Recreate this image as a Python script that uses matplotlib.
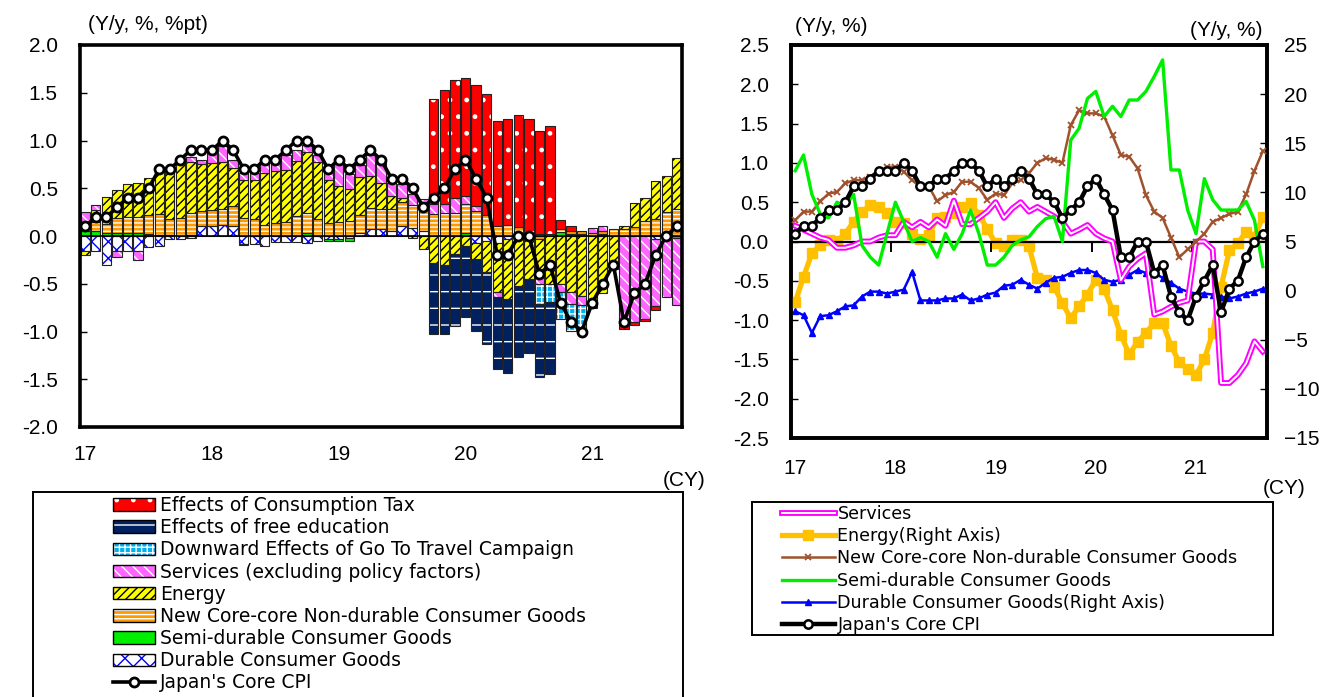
import matplotlib
matplotlib.use("Agg")
import matplotlib.pyplot as plt
import numpy as np
from matplotlib.patches import Patch, Rectangle
from matplotlib.lines import Line2D

plt.rcParams['font.family'] = ['DejaVu Sans']
plt.rcParams['hatch.linewidth'] = 1.0

# monthly, Jan 2017 .. Sep 2021
year_pos = [0, 12, 24, 36, 48]
year_labels = ['17', '18', '19', '20', '21']

core_cpi = [0.1, 0.2, 0.2, 0.3, 0.4, 0.4, 0.5, 0.7, 0.7, 0.8, 0.9, 0.9,
            0.9, 1.0, 0.9, 0.7, 0.7, 0.8, 0.8, 0.9, 1.0, 1.0, 0.9, 0.7,
            0.8, 0.7, 0.8, 0.9, 0.8, 0.6, 0.6, 0.5, 0.3, 0.4, 0.5, 0.7,
            0.8, 0.6, 0.4, -0.2, -0.2, 0.0, 0.0, -0.4, -0.3, -0.7, -0.9, -1.0,
            -0.7, -0.5, -0.3, -0.9, -0.6, -0.5, -0.2, 0.0, 0.1]

# contributions (left panel), %pt
c_durable = [-0.16, -0.16, -0.30, -0.16, -0.16, -0.16, -0.12, -0.10, -0.03, -0.03, -0.02, 0.10,
             0.10, 0.11, 0.10, -0.08, -0.08, -0.10, -0.06, -0.06, -0.06, -0.07, -0.05, -0.03,
             -0.03, -0.02, 0.03, 0.07, 0.07, 0.05, 0.10, 0.08, 0.05, 0.0, 0.0, 0.0,
             0.0, -0.07, -0.05, -0.07, -0.03, 0.0, 0.0, 0.02, 0.0, 0.0, 0.0, 0.0,
             0.0, 0.0, 0.0, 0.0, 0.0, 0.0, -0.03, 0.0, 0.0]
c_semi = [0.05, 0.05, 0.03, 0.03, 0.03, 0.03, 0.02, 0.01, 0.01, 0.0, 0.01, 0.0,
          0.0, 0.0, 0.0, -0.01, 0.0, 0.0, 0.0, 0.0, 0.0, 0.03, 0.0, -0.02,
          -0.02, -0.03, 0.0, 0.0, 0.0, 0.0, 0.0, 0.0, 0.0, 0.0, 0.0, 0.0,
          0.03, 0.0, 0.0, 0.0, 0.0, 0.0, 0.0, 0.0, 0.0, 0.04, 0.02, 0.02,
          0.0, 0.02, 0.0, 0.0, 0.0, 0.0, 0.01, 0.01, -0.02]
c_corecore = [0.10, 0.10, 0.10, 0.16, 0.17, 0.17, 0.20, 0.22, 0.17, 0.19, 0.23, 0.16,
              0.17, 0.17, 0.21, 0.19, 0.18, 0.12, 0.14, 0.15, 0.21, 0.21, 0.18, 0.14,
              0.15, 0.16, 0.19, 0.22, 0.21, 0.23, 0.26, 0.24, 0.22, 0.23, 0.24, 0.24,
              0.30, 0.26, 0.22, 0.10, 0.12, 0.09, 0.03, -0.03, 0.02, 0.03, 0.03, 0.03,
              0.03, 0.03, 0.07, 0.07, 0.09, 0.16, 0.17, 0.24, 0.28]
c_energy = [-0.04, 0.12, 0.28, 0.29, 0.34, 0.36, 0.39, 0.44, 0.54, 0.59, 0.53, 0.49,
            0.49, 0.49, 0.40, 0.40, 0.41, 0.54, 0.54, 0.54, 0.58, 0.64, 0.60, 0.45,
            0.37, 0.33, 0.40, 0.34, 0.28, 0.14, 0.04, -0.02, -0.14, -0.28, -0.30, -0.19,
            -0.10, -0.17, -0.33, -0.52, -0.63, -0.52, -0.45, -0.40, -0.50, -0.50, -0.59, -0.63,
            -0.68, -0.60, -0.35, 0.03, 0.26, 0.24, 0.40, 0.38, 0.54]
c_services = [0.10, 0.05, 0.0, -0.06, 0.0, -0.09, 0.0, 0.0, 0.0, 0.03, 0.06, 0.05,
              0.16, 0.17, 0.09, 0.07, 0.07, 0.10, 0.09, 0.16, 0.11, 0.07, 0.07, 0.08,
              0.24, 0.16, 0.12, 0.22, 0.21, 0.14, 0.14, 0.12, 0.12, 0.10, 0.10, 0.16,
              0.09, 0.05, 0.0, -0.05, 0.0, 0.0, 0.0, -0.07, 0.0, -0.09, -0.12, -0.09,
              0.05, 0.05, 0.0, -0.90, -0.90, -0.87, -0.70, -0.64, -0.70]
c_goto = [0.0, 0.0, 0.0, 0.0, 0.0, 0.0, 0.0, 0.0, 0.0, 0.0, 0.0, 0.0,
          0.0, 0.0, 0.0, 0.0, 0.0, 0.0, 0.0, 0.0, 0.0, 0.0, 0.0, 0.0,
          0.0, 0.0, 0.0, 0.0, 0.0, 0.0, 0.0, 0.0, 0.0, 0.0, 0.0, 0.0,
          0.0, 0.0, 0.0, 0.0, 0.0, 0.0, 0.0, -0.21, -0.19, -0.28, -0.28, -0.30,
          0.0, 0.0, 0.0, 0.0, 0.0, 0.0, 0.0, 0.0, 0.0]
c_education = [0.0, 0.0, 0.0, 0.0, 0.0, 0.0, 0.0, 0.0, 0.0, 0.0, 0.0, 0.0,
               0.0, 0.0, 0.0, 0.0, 0.0, 0.0, 0.0, 0.0, 0.0, 0.0, 0.0, 0.0,
               0.0, 0.0, 0.0, 0.0, 0.0, 0.0, 0.0, 0.0, 0.0, -0.75, -0.73, -0.75,
               -0.75, -0.75, -0.75, -0.75, -0.77, -0.75, -0.78, -0.77, -0.75, 0.0, 0.0, 0.0,
               0.0, 0.0, 0.0, 0.0, 0.0, 0.0, 0.0, 0.0, 0.0]
c_tax = [0.0, 0.0, 0.0, 0.0, 0.0, 0.0, 0.0, 0.0, 0.0, 0.0, 0.0, 0.0,
         0.0, 0.0, 0.0, 0.0, 0.0, 0.0, 0.0, 0.0, 0.0, 0.0, 0.0, 0.0,
         0.0, 0.0, 0.0, 0.0, 0.0, 0.0, 0.0, 0.0, 0.0, 1.10, 1.19, 1.23,
         1.23, 1.27, 1.27, 1.10, 1.10, 1.18, 1.20, 1.08, 1.13, 0.10, 0.05, 0.0,
         -0.07, 0.0, 0.0, -0.07, -0.03, -0.02, -0.05, 0.0, 0.0]

# right panel, y/y %
services = [0.20, 0.15, 0.10, 0.05, 0.02, -0.08, -0.08, -0.05, 0.0, 0.0, 0.05, 0.08,
            0.08, 0.25, 0.18, 0.25, 0.18, 0.28, 0.20, 0.52, 0.22, 0.22, 0.30, 0.38,
            0.50, 0.30, 0.42, 0.50, 0.38, 0.44, 0.38, 0.32, 0.25, 0.10, 0.15, 0.21,
            0.10, 0.04, 0.0, -0.49, -0.32, -0.22, -0.15, -0.93, -0.89, -0.83, -0.78, -0.75,
            0.0, 0.0, -0.10, -1.80, -1.80, -1.70, -1.55, -1.27, -1.40]
energy = [-1.2, 1.4, 3.8, 4.6, 5.2, 5.0, 5.8, 7.0, 8.0, 8.7, 8.5, 7.9,
          7.0, 6.9, 5.8, 5.3, 5.7, 7.4, 7.5, 7.9, 8.5, 8.9, 7.7, 6.3,
          4.8, 4.5, 5.2, 5.2, 4.5, 1.3, 1.1, 0.4, -1.3, -2.8, -1.6, -0.4,
          1.1, 0.2, -2.0, -4.5, -6.5, -5.2, -4.3, -3.3, -3.3, -5.6, -7.3, -8.0,
          -8.6, -7.0, -4.3, 0.4, 4.1, 4.8, 6.0, 5.5, 7.5]
corecore = [0.27, 0.38, 0.38, 0.51, 0.61, 0.63, 0.74, 0.78, 0.78, 0.82, 0.89, 0.95,
            0.95, 0.89, 0.78, 0.70, 0.70, 0.51, 0.59, 0.63, 0.76, 0.76, 0.68, 0.53,
            0.61, 0.59, 0.74, 0.78, 0.87, 1.00, 1.06, 1.04, 1.00, 1.48, 1.67, 1.63,
            1.63, 1.59, 1.35, 1.10, 1.08, 0.93, 0.59, 0.38, 0.30, 0.05, -0.20, -0.10,
            0.0, 0.10, 0.25, 0.30, 0.35, 0.38, 0.60, 0.90, 1.15]
semidurable = [0.90, 1.10, 0.60, 0.35, 0.30, 0.50, 0.45, 0.60, -0.05, -0.20, -0.30, 0.10,
               0.50, 0.25, 0.0, 0.05, 0.0, -0.20, 0.10, -0.10, 0.10, 0.40, 0.10, -0.30,
               -0.30, -0.20, -0.05, 0.02, 0.06, 0.19, 0.29, 0.32, 0.0, 1.29, 1.44, 1.82,
               1.91, 1.59, 1.72, 1.59, 1.80, 1.80, 1.91, 2.10, 2.31, 0.91, 0.91, 0.40,
               0.10, 0.80, 0.53, 0.40, 0.40, 0.40, 0.51, 0.27, -0.32]
durable = [-2.1, -2.5, -4.3, -2.6, -2.5, -2.1, -1.6, -1.5, -0.6, -0.1, -0.1, -0.3,
           -0.1, 0.1, 1.9, -1.0, -1.0, -1.0, -0.8, -0.8, -0.4, -1.0, -0.8, -0.4,
           -0.2, 0.5, 0.6, 1.1, 0.6, 0.2, 0.8, 1.3, 1.4, 1.8, 2.1, 2.1,
           1.8, 1.1, 0.9, 1.1, 1.6, 2.1, 1.8, 1.8, 1.3, 0.8, 0.2, -0.1,
           -0.3, -0.3, -0.4, -0.6, -0.8, -0.6, -0.3, -0.1, 0.2]

W, H = 1324, 697
fig = plt.figure(figsize=(W / 100, H / 100), dpi=100)

def fx(px):
    return px / W

def fy(py):
    return 1 - py / H

AX_FONT = 'Liberation Sans'
TXT = 15

def style_ticks(a):
    for lab in a.get_xticklabels() + a.get_yticklabels():
        lab.set_fontfamily(AX_FONT)

# ---------------- left panel ----------------
ax = fig.add_axes([fx(80), fy(427), fx(682 - 80), (427 - 45) / H])
x = np.arange(len(core_cpi))

bar_series = [
    (c_durable, 'white', 'xx', '#0000ff'),
    (c_semi, '#00ee00', None, None),
    (c_corecore, '#ff9900', '----', 'white'),
    (c_energy, '#ffff00', '////', 'black'),
    (c_services, '#ff66ff', '\\\\\\', 'white'),
    (c_goto, '#00b0f0', '+++', 'white'),
    (c_education, '#002060', '-', 'white'),
    (c_tax, '#ff0000', '.', 'white'),
]
pos = np.zeros(len(x))
neg = np.zeros(len(x))
bw = 0.88
for vals, fc, hatch, hc in bar_series:
    v = np.array(vals)
    m = v != 0
    base = np.where(v > 0, pos, neg)
    ax.bar(x[m], v[m], bw, bottom=base[m], color=fc, linewidth=0, zorder=2)
    if hatch:
        ax.bar(x[m], v[m], bw, bottom=base[m], fill=False, hatch=hatch,
               edgecolor=hc, linewidth=0, zorder=2)
    ax.bar(x[m], v[m], bw, bottom=base[m], fill=False, edgecolor='#222222',
           linewidth=0.8, zorder=2)
    pos += np.clip(v, 0, None)
    neg += np.clip(v, None, 0)

ax.axhline(0, color='black', lw=1.2, zorder=3)
ax.plot(x, core_cpi, color='black', lw=2.6, marker='o', ms=6.5, mfc='white',
        mec='black', mew=2, zorder=5)

ax.set_xlim(-0.5, len(x) - 0.5)
ax.set_ylim(-2.0, 2.0)
yt = np.arange(-2.0, 2.01, 0.5)
ax.set_yticks(yt)
ax.set_yticklabels([f'{v:.1f}' for v in yt])
ax.set_xticks(year_pos)
ax.set_xticklabels(year_labels)
ax.tick_params(axis='y', direction='in', length=5, width=1, labelsize=TXT, pad=16)
ax.tick_params(axis='x', length=0, labelsize=TXT, pad=13)
style_ticks(ax)
for s in ax.spines.values():
    s.set_linewidth(2.6)

fig.text(fx(88), fy(25), '(Y/y, %, %pt)', fontsize=TXT, family=AX_FONT,
         va='center', ha='left')
fig.text(fx(706), fy(480), '(CY)', fontsize=TXT, family=AX_FONT,
         va='center', ha='right')

# ---------------- right panel ----------------
axr = fig.add_axes([fx(791), fy(438), fx(1267 - 791), (438 - 45) / H])
ax2 = axr.twinx()
axr.set_zorder(ax2.get_zorder() + 1)
axr.patch.set_visible(False)

xr = np.arange(len(services))
axr.axhline(0, color='black', lw=1.6, zorder=1)
axr.plot(np.array(year_pos[1:]) - 0.5, np.zeros(len(year_pos) - 1), ls='none',
         marker=3, ms=7, mew=1.4, color='black', zorder=1)

ax2.plot(xr, energy, color='#ffc000', lw=3.8, marker='s', ms=6.5, zorder=3)
ax2.plot(xr, durable, color='#0000ff', lw=1.8, marker='^', ms=4.5, zorder=3)

axr.plot(xr, services, color='#ff00ff', lw=4.2, zorder=2)
axr.plot(xr, services, color='white', lw=1.4, zorder=2)
axr.plot(xr, corecore, color='#a0522d', lw=1.8, marker='x', ms=5, mew=1.3, zorder=3)
axr.plot(xr, semidurable, color='#00ee00', lw=2.4, zorder=3)
axr.plot(xr, core_cpi, color='black', lw=3.2, marker='o', ms=6, mfc='white',
         mec='black', mew=1.8, zorder=5)

axr.set_xlim(-0.5, len(xr) - 0.5)
axr.set_ylim(-2.5, 2.5)
ytl = np.arange(-2.5, 2.51, 0.5)
axr.set_yticks(ytl)
axr.set_yticklabels([f'{v:.1f}' for v in ytl])
ax2.set_ylim(-15, 25)
ax2.set_yticks(np.arange(-15, 26, 5))
axr.set_xticks(year_pos)
axr.set_xticklabels(year_labels)
axr.tick_params(axis='y', direction='in', length=5, width=1, labelsize=TXT, pad=16)
ax2.tick_params(axis='y', direction='in', length=5, width=1, labelsize=TXT, pad=12)
axr.tick_params(axis='x', length=0, labelsize=TXT, pad=15)
style_ticks(axr)
style_ticks(ax2)
for s in list(axr.spines.values()) + list(ax2.spines.values()):
    s.set_linewidth(2.6)

fig.text(fx(795), fy(27), '(Y/y, %)', fontsize=TXT, family=AX_FONT,
         va='center', ha='left')
fig.text(fx(1262), fy(30), '(Y/y, %)', fontsize=TXT, family=AX_FONT,
         va='center', ha='right')
fig.text(fx(1306), fy(488), '(CY)', fontsize=TXT, family=AX_FONT,
         va='center', ha='right')

# ---------------- legends ----------------
fig.add_artist(Rectangle((fx(33), fy(720)), fx(683 - 33), (720 - 492) / H,
                         transform=fig.transFigure, fill=False, lw=1.4,
                         edgecolor='black'))
fig.add_artist(Rectangle((fx(752), fy(635)), fx(1273 - 752), (635 - 502) / H,
                         transform=fig.transFigure, fill=False, lw=1.4,
                         edgecolor='black'))

def bar_handle(fc, hatch, hc):
    parts = [Patch(facecolor=fc, linewidth=0)]
    if hatch:
        parts.append(Patch(fill=False, hatch=hatch, edgecolor=hc, linewidth=0))
    parts.append(Patch(fill=False, edgecolor='black', linewidth=1.0))
    return tuple(parts)

left_labels = ['Effects of Consumption Tax', 'Effects of free education',
               'Downward Effects of Go To Travel Campaign',
               'Services (excluding policy factors)', 'Energy',
               'New Core-core Non-durable Consumer Goods',
               'Semi-durable Consumer Goods', 'Durable Consumer Goods',
               "Japan's Core CPI"]
left_handles = [bar_handle(fc, h, hc) for _, fc, h, hc in bar_series[::-1]]
left_handles.append(Line2D([], [], color='black', lw=2.6, marker='o', ms=6.5,
                           mfc='white', mec='black', mew=2))
fig.legend(left_handles, left_labels, loc='upper left',
           bbox_to_anchor=(fx(113), fy(496)), frameon=False, fontsize=13.5,
           borderpad=0, borderaxespad=0, handlelength=2.25, handleheight=0.64,
           handletextpad=0.27, labelspacing=0.17)

right_labels = ['Services', 'Energy(Right Axis)',
                'New Core-core Non-durable Consumer Goods',
                'Semi-durable Consumer Goods', 'Durable Consumer Goods(Right Axis)',
                "Japan's Core CPI"]
right_handles = [
    (Line2D([], [], color='#ff00ff', lw=4.2), Line2D([], [], color='white', lw=1.4)),
    Line2D([], [], color='#ffc000', lw=3.8, marker='s', ms=7),
    Line2D([], [], color='#a0522d', lw=1.8, marker='x', ms=5, mew=1.3),
    Line2D([], [], color='#00ee00', lw=2.4),
    Line2D([], [], color='#0000ff', lw=1.8, marker='^', ms=5),
    Line2D([], [], color='black', lw=3.2, marker='o', ms=6, mfc='white',
           mec='black', mew=1.8),
]
fig.legend(right_handles, right_labels, loc='upper left',
           bbox_to_anchor=(fx(782), fy(505)), frameon=False, fontsize=12.6,
           borderpad=0, borderaxespad=0, handlelength=3.0, handleheight=0.66,
           handletextpad=0.17, labelspacing=0.24)

fig.savefig('out.png', dpi=100)
